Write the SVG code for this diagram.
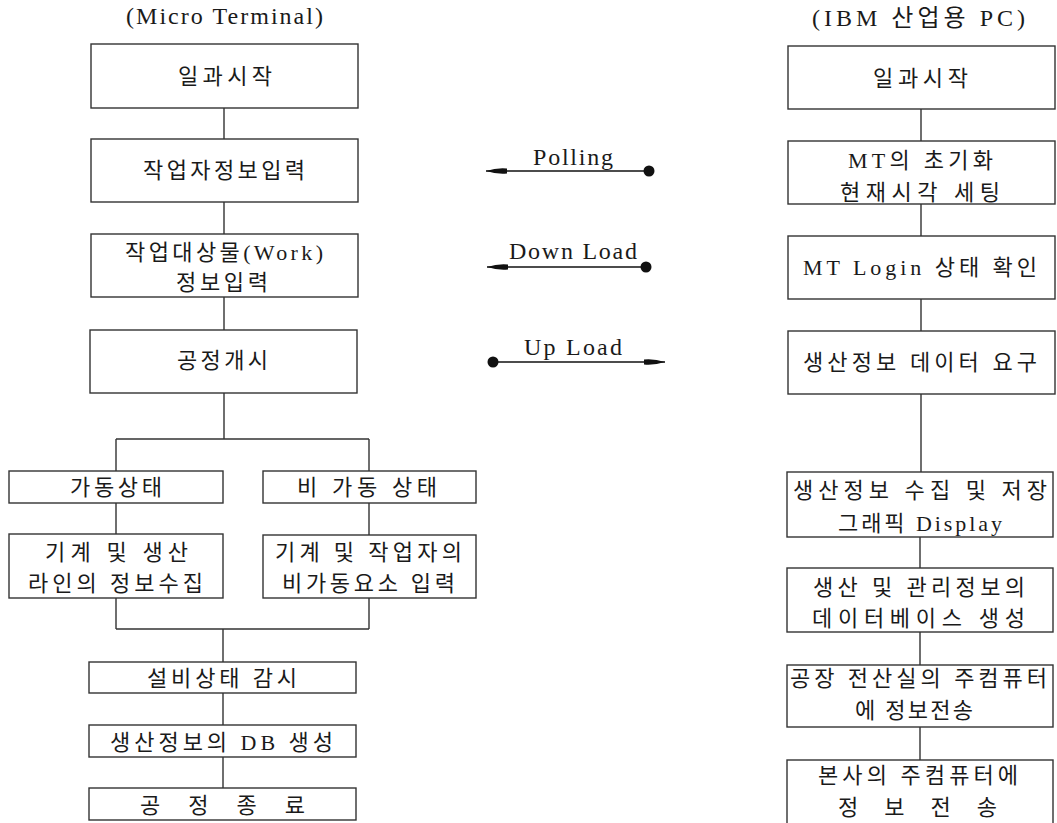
<svg xmlns="http://www.w3.org/2000/svg" width="1057" height="823" viewBox="0 0 1057 823">
<style>
.b{fill:#fff;stroke:#333;stroke-width:1.4}
.t{font-family:"Liberation Serif","Noto Sans CJK KR",serif;font-size:22px;fill:#1a1a1a}
.l{font-family:"Liberation Serif","Noto Sans CJK KR",serif;font-size:24px;fill:#1a1a1a}
.h{font-family:"Liberation Serif","Noto Sans CJK KR",serif;font-size:24px;fill:#1a1a1a}
.c{stroke:#333;stroke-width:1.4;fill:none}
.a{stroke:#111;stroke-width:1.6;fill:none}
</style>
<defs>
<marker id="ah" viewBox="0 0 21 7" refX="21" refY="3.5" markerWidth="21" markerHeight="7" markerUnits="userSpaceOnUse" orient="auto">
<path d="M0,1 Q10,0 21,3.5 Q10,7 0,6 Z" fill="#111"/>
</marker>
</defs>
<rect width="1057" height="823" fill="#fff"/>
<text class="h" x="126" y="24" textLength="197" lengthAdjust="spacing">(Micro Terminal)</text>
<text class="h" x="812" y="26" textLength="213" lengthAdjust="spacing">(IBM 산업용 PC)</text>

<g id="connectors">
<path class="c" d="M224,108V139M224,202V234M224,297V330M224,393V439M116,439H369M116,439V471M369,439V471M116,503V534M369,503V535M116,598V629M369,598V629M116,629H369M223,629V662M223,693V725M223,757V788"/>
<path class="c" d="M921,109V141M921,204V236M921,299V331M921,394V472M920,537V568M920,632V665M920,727V760"/>
</g>

<g id="arrows">
<line class="a" x1="649" y1="171" x2="486" y2="171" marker-end="url(#ah)"/>
<circle cx="649" cy="171" r="5.5" fill="#111"/>
<text class="l" x="533" y="165" textLength="80" lengthAdjust="spacing">Polling</text>
<line class="a" x1="646" y1="267" x2="487" y2="267" marker-end="url(#ah)"/>
<circle cx="646" cy="267" r="5.5" fill="#111"/>
<text class="l" x="509" y="259" textLength="128" lengthAdjust="spacing">Down Load</text>
<line class="a" x1="493" y1="362" x2="665" y2="362" marker-end="url(#ah)"/>
<circle cx="493" cy="362" r="5.5" fill="#111"/>
<text class="l" x="524" y="355" textLength="98" lengthAdjust="spacing">Up Load</text>
</g>

<g id="L1"><rect class="b" x="91" y="44" width="267" height="64"/><text class="t" x="178" y="84" textLength="94" lengthAdjust="spacing">일과시작</text></g>
<g id="L2"><rect class="b" x="91" y="139" width="267" height="63"/><text class="t" x="143" y="178" textLength="162" lengthAdjust="spacing">작업자정보입력</text></g>
<g id="L3"><rect class="b" x="91" y="234" width="267" height="63"/><text class="t" x="125" y="260" textLength="198" lengthAdjust="spacing">작업대상물(Work)</text><text class="t" x="176" y="290" textLength="92" lengthAdjust="spacing">정보입력</text></g>
<g id="L4"><rect class="b" x="90" y="330" width="267" height="63"/><text class="t" x="177" y="368" textLength="91" lengthAdjust="spacing">공정개시</text></g>
<g id="L5"><rect class="b" x="9" y="471" width="214" height="32"/><text class="t" x="70" y="495" textLength="92" lengthAdjust="spacing">가동상태</text></g>
<g id="L6"><rect class="b" x="263" y="471" width="213" height="32"/><text class="t" x="297" y="495" textLength="140" lengthAdjust="spacing">비 가동 상태</text></g>
<g id="L7"><rect class="b" x="9" y="534" width="214" height="64"/><text class="t" x="45" y="560" textLength="143" lengthAdjust="spacing">기계 및 생산</text><text class="t" x="28" y="591" textLength="175" lengthAdjust="spacing">라인의 정보수집</text></g>
<g id="L8"><rect class="b" x="263" y="535" width="213" height="63"/><text class="t" x="275" y="560" textLength="187" lengthAdjust="spacing">기계 및 작업자의</text><text class="t" x="282" y="591" textLength="173" lengthAdjust="spacing">비가동요소 입력</text></g>
<g id="L9"><rect class="b" x="89" y="662" width="267" height="31"/><text class="t" x="147" y="686" textLength="150" lengthAdjust="spacing">설비상태 감시</text></g>
<g id="L10"><rect class="b" x="89" y="725" width="267" height="32"/><text class="t" x="110" y="750" textLength="223" lengthAdjust="spacing">생산정보의 DB 생성</text></g>
<g id="L11"><rect class="b" x="89" y="788" width="267" height="32"/><text class="t" x="140" y="813" textLength="165" lengthAdjust="spacing">공 정 종 료</text></g>

<g id="R1"><rect class="b" x="788" y="46" width="267" height="63"/><text class="t" x="873" y="86" textLength="95" lengthAdjust="spacing">일과시작</text></g>
<g id="R2"><rect class="b" x="788" y="141" width="267" height="63"/><text class="t" x="848" y="168" textLength="145" lengthAdjust="spacing">MT의 초기화</text><text class="t" x="840" y="200" textLength="160" lengthAdjust="spacing">현재시각 세팅</text></g>
<g id="R3"><rect class="b" x="788" y="236" width="267" height="63"/><text class="t" x="803" y="275" textLength="234" lengthAdjust="spacing">MT Login 상태 확인</text></g>
<g id="R4"><rect class="b" x="788" y="331" width="267" height="63"/><text class="t" x="803" y="370" textLength="234" lengthAdjust="spacing">생산정보 데이터 요구</text></g>
<g id="R5"><rect class="b" x="787" y="472" width="266" height="65"/><text class="t" x="793" y="498" textLength="254" lengthAdjust="spacing">생산정보 수집 및 저장</text><text class="t" x="838" y="531" textLength="164" lengthAdjust="spacing">그래픽 Display</text></g>
<g id="R6"><rect class="b" x="787" y="568" width="266" height="64"/><text class="t" x="813" y="595" textLength="212" lengthAdjust="spacing">생산 및 관리정보의</text><text class="t" x="812" y="626" textLength="213" lengthAdjust="spacing">데이터베이스 생성</text></g>
<g id="R7"><rect class="b" x="787" y="665" width="266" height="62"/><text class="t" x="790" y="686" textLength="257" lengthAdjust="spacing">공장 전산실의 주컴퓨터</text><text class="t" x="855" y="718" textLength="118" lengthAdjust="spacing">에 정보전송</text></g>
<g id="R8"><rect class="b" x="787" y="760" width="266" height="68"/><text class="t" x="818" y="783" textLength="200" lengthAdjust="spacing">본사의 주컴퓨터에</text><text class="t" x="838" y="815" textLength="159" lengthAdjust="spacing">정 보 전 송</text></g>
</svg>
